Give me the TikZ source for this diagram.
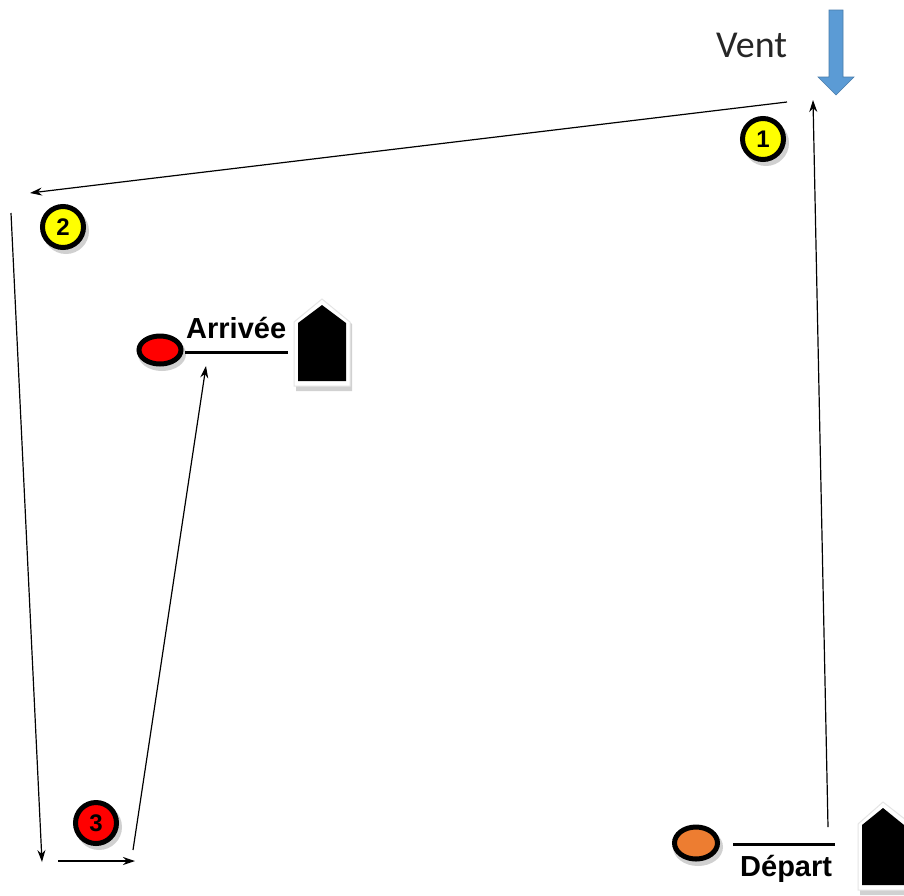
\documentclass[tikz,border=0pt]{standalone}
\usepackage{fontspec}
\setmainfont{Liberation Sans}
\newfontfamily\ventfont{Carlito}
\usetikzlibrary{arrows.meta,shapes.geometric}
\definecolor{windblue}{HTML}{5B9BD5}
\definecolor{markyellow}{HTML}{FFFF00}
\definecolor{markred}{HTML}{FF0000}
\definecolor{markorange}{HTML}{ED7D31}
\tikzset{
  leg/.style={line width=1.2pt, -{Stealth[length=12pt,width=8pt]}},
  buoy/.style={circle, draw=black, line width=5pt, minimum size=41pt, inner sep=0pt, font=\bfseries\fontsize{24}{24}\selectfont},
  bshadow/.style={fill=black!30, opacity=0.6},
  lbl/.style={inner sep=0pt, font=\bfseries\fontsize{29}{29}\selectfont},
  boat/.style={fill=black},
  boatrim/.style={fill=white, draw=black!10, line width=1pt},
  boatshade/.style={fill=black!18},
}
\begin{document}
\begin{tikzpicture}[x=1pt,y=-1pt]
\useasboundingbox (0,0) rectangle (904,895);
\fill[white] (0,0) rectangle (904,895);

% wind
\node[inner sep=0pt, anchor=base west, font=\ventfont\fontsize{38}{38}\selectfont, text=black!85] (vent) at (716,57) {Vent};
\fill[windblue, draw=windblue!80!black, line width=0.6pt]
  (829,10) -- (843,10) -- (843,77) -- (854,77) -- (836,95) -- (818,77) -- (829,77) -- cycle;

% buoy shadows
\fill[bshadow] (766,143) circle (23);
\fill[bshadow] (66,231) circle (23);
\fill[bshadow] (99,827) circle (23);
% buoys
\node[buoy, fill=markyellow] (b1) at (763,139) {1};
\node[buoy, fill=markyellow] (b2) at (63,227) {2};
\node[buoy, fill=markred] (b3) at (96,823) {3};

% finish
\fill[bshadow] (162,354) ellipse (24 and 17);
\node[ellipse, draw=black, line width=5pt, fill=markred, minimum width=42pt, minimum height=28pt, inner sep=0pt] (fin) at (160,350) {};
\draw[line width=3pt] (185,352) -- (288,352);
\node[lbl, anchor=base west] (arr) at (186,338) {Arrivée};
\fill[boatshade] (296,324) -- (324,302) -- (352,324) -- (352,391) -- (296,391) -- cycle;
\filldraw[boatrim] (294,322) -- (322,299) -- (350,322) -- (350,386) -- (294,386) -- cycle;
\fill[boat] (298,323) -- (322,305) -- (346,323) -- (346,381) -- (298,381) -- cycle;

% start
\fill[bshadow] (698,847) ellipse (25 and 19);
\node[ellipse, draw=black, line width=5pt, fill=markorange, minimum width=43pt, minimum height=32pt, inner sep=0pt] (dep) at (696,843) {};
\draw[line width=3pt] (733,844) -- (835,844);
\node[lbl, anchor=base west] (dtxt) at (740,876) {Départ};
\fill[boatshade] (860,826) -- (885,804) -- (906,822) -- (906,895) -- (860,895) -- cycle;
\filldraw[boatrim] (858,824) -- (883,802) -- (906,820) -- (906,890) -- (858,890) -- cycle;
\fill[boat] (862,825) -- (883,808) -- (904,825) -- (904,885) -- (862,885) -- cycle;

% course coordinates
\coordinate (p0) at (828,827);
\coordinate (p1) at (813,100);
\coordinate (q0) at (787,102);
\coordinate (q1) at (30,193);
\coordinate (r0) at (11,213);
\coordinate (r1) at (42,862);
\coordinate (s0) at (58,861);
\coordinate (s1) at (135,861);
\coordinate (t0) at (133,850);
\coordinate (t1) at (206,366);

\draw[leg] (p0) -- (p1);
\draw[leg] (q0) -- (q1);
\draw[leg] (r0) -- (r1);
\draw[leg] (s0) -- (s1);
\draw[leg] (t0) -- (t1);
\end{tikzpicture}
\end{document}
